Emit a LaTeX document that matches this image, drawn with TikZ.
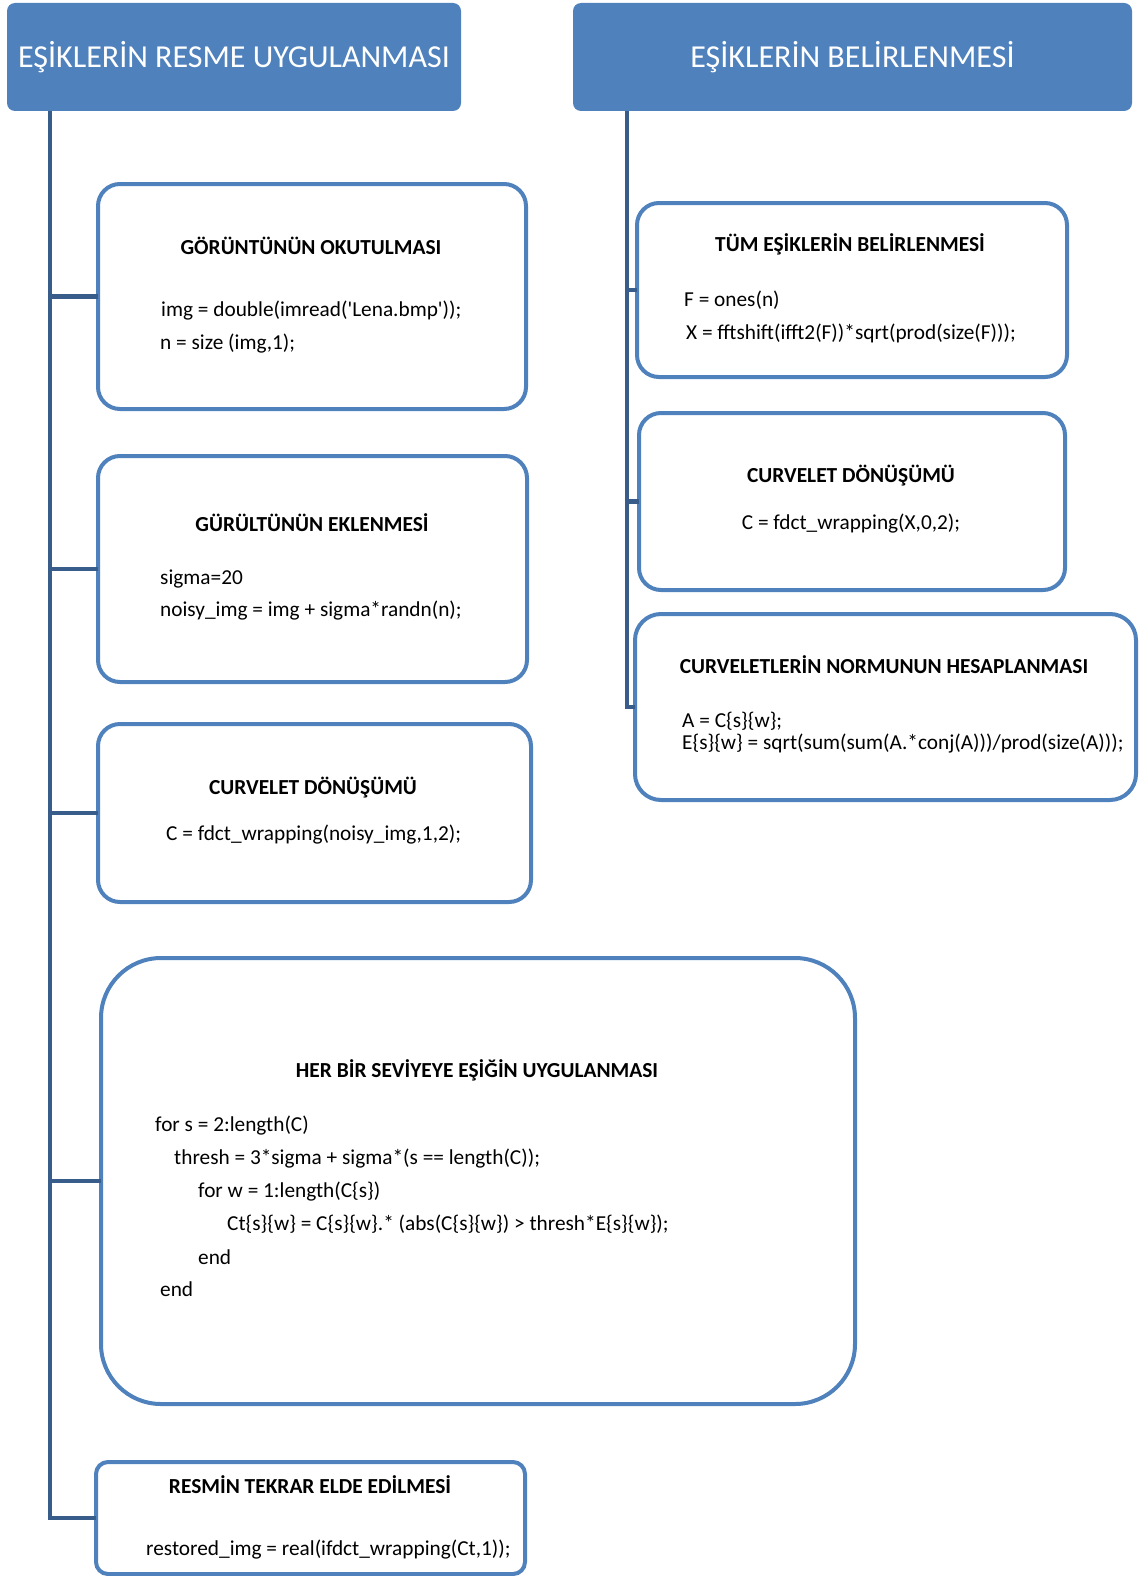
\documentclass[tikz,border=0pt]{standalone}
\usepackage{fontspec}
\setmainfont{Carlito}
\usetikzlibrary{positioning}
\definecolor{headblue}{RGB}{79,129,189}
\definecolor{spineblue}{RGB}{56,93,138}

\tikzset{
  header/.style={fill=headblue, rounded corners=8pt, anchor=north west, inner sep=0pt, outer sep=0pt},
  stepbox/.style={draw=headblue, line width=4pt, fill=white, rounded corners=22pt, anchor=north west, inner sep=0pt, outer sep=0pt},
  spine/.style={draw=spineblue, line width=4.5pt, line join=miter},
  headtext/.style={text=white, font=\fontsize{32}{38}\selectfont, inner sep=0pt},
  boxtitle/.style={font=\fontsize{21.4}{25}\selectfont\bfseries, inner sep=0pt},
  code/.style={font=\fontsize{21.3}{25}\selectfont, anchor=west, inner sep=0pt}
}

\begin{document}
\begin{tikzpicture}[x=1pt, y=-1pt]
\useasboundingbox (0,0) rectangle (1140,1576);

% 1. HEADERS
\node[header, minimum width=454pt, minimum height=108pt] (hleft) at (7,3) {};
\node[headtext] (hlefttext) at (hleft.center) {EŞİKLERİN RESME UYGULANMASI};
\node[header, minimum width=559pt, minimum height=108pt] (hright) at (573,3) {};
\node[headtext] (hrighttext) at (hright.center) {EŞİKLERİN BELİRLENMESİ};

% Spine ends
\coordinate (ltop) at (50,111);
\coordinate (rtop) at (627,111);

% 2. LEFT BOXES
\node[stepbox, minimum width=428pt, minimum height=225pt] (read) at (98,184) {};
\node[stepbox, minimum width=429pt, minimum height=226pt] (noise) at (98,456) {};
\node[stepbox, minimum width=433pt, minimum height=178pt] (curvl) at (98,724) {};
\node[stepbox, rounded corners=60pt, minimum width=754pt, minimum height=446pt] (apply) at (101,958) {};
\node[stepbox, rounded corners=12pt, minimum width=429pt, minimum height=112pt] (rest) at (96,1462) {};

% 3. RIGHT BOXES
\node[stepbox, minimum width=430pt, minimum height=174pt] (allth) at (637,203) {};
\node[stepbox, minimum width=426pt, minimum height=177pt] (curvr) at (639,413) {};
\node[stepbox, rounded corners=26pt, minimum width=501pt, minimum height=186pt] (norm) at (635,614) {};

% 4. TREE LINES
\draw[spine] (ltop) -- (ltop |- rest.west) -- (rest.west);
\draw[spine] (ltop |- read.west) -- (read.west);
\draw[spine] (ltop |- noise.west) -- (noise.west);
\draw[spine] (ltop |- curvl.west) -- (curvl.west);
\draw[spine] (ltop |- apply.west) -- (apply.west);
\draw[spine] (rtop) -- (rtop |- norm.west) -- (norm.west);
\draw[spine] (rtop |- allth.west) -- (allth.west);
\draw[spine] (rtop |- curvr.west) -- (curvr.west);

% 5. TEXTS, LEFT
\node[boxtitle] (readtitle) at (311,246) {GÖRÜNTÜNÜN OKUTULMASI};
\node[code] (readc1) at (161,311) {img = double(imread(\textquotesingle Lena.bmp\textquotesingle));};
\node[code] (readc2) at (160,344) {n = size (img,1);};

\node[boxtitle] (noisetitle) at (312,523) {GÜRÜLTÜNÜN EKLENMESİ};
\node[code] (noisec1) at (160,579) {sigma=20};
\node[code] (noisec2) at (160,611) {noisy\_img = img + sigma*randn(n);};

\node[boxtitle] (curvltitle) at (313,788) {CURVELET DÖNÜŞÜMÜ};
\node[code] (curvlc1) at (166,835) {C = fdct\_wrapping(noisy\_img,1,2);};

\node[boxtitle] (applytitle) at (477,1070) {HER BİR SEVİYEYE EŞİĞİN UYGULANMASI};
\node[code] (applyc1) at (155,1126) {for s = 2:length(C)};
\node[code] (applyc2) at (174,1159) {thresh = 3*sigma + sigma*(s == length(C));};
\node[code] (applyc3) at (198,1192) {for w = 1:length(C\{s\})};
\node[code] (applyc4) at (227,1224) {Ct\{s\}\{w\} = C\{s\}\{w\}.* (abs(C\{s\}\{w\}) > thresh*E\{s\}\{w\});};
\node[code] (applyc5) at (198,1257) {end};
\node[code] (applyc6) at (160,1289) {end};

\node[boxtitle] (resttitle) at (310,1485) {RESMİN TEKRAR ELDE EDİLMESİ};
\node[code] (restc1) at (146,1550) {restored\_img = real(ifdct\_wrapping(Ct,1));};

% 6. TEXTS, RIGHT
\node[boxtitle] (allthtitle) at (850,244) {TÜM EŞİKLERİN BELİRLENMESİ};
\node[code] (allthc1) at (684,300) {F = ones(n)};
\node[code] (allthc2) at (686,333) {X = fftshift(ifft2(F))*sqrt(prod(size(F)));};

\node[boxtitle] (curvrtitle) at (851,476) {CURVELET DÖNÜŞÜMÜ};
\node[code, anchor=center] (curvrc1) at (851,524) {C = fdct\_wrapping(X,0,2);};

\node[boxtitle] (normtitle) at (884,665) {CURVELETLERİN NORMUNUN HESAPLANMASI};
\node[code] (normc1) at (682,721) {A = C\{s\}\{w\};};
\node[code] (normc2) at (682,744) {E\{s\}\{w\} = sqrt(sum(sum(A.*conj(A)))/prod(size(A)));};

\end{tikzpicture}
\end{document}
